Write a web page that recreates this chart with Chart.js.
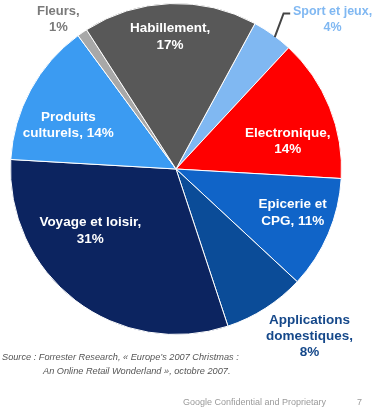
<!DOCTYPE html>
<html>
<head>
<meta charset="utf-8">
<script src="https://cdn.jsdelivr.net/npm/chart.js@4.4.0/dist/chart.umd.min.js"></script>
<style>
  html,body{margin:0;padding:0;background:#fff;width:382px;height:420px;overflow:hidden;}
  #wrap{position:absolute;left:0;top:0;width:382px;height:420px;}
  #c{position:absolute;left:0;top:0;}
  .src{position:absolute;font-family:"Liberation Sans",Arial,sans-serif;font-style:italic;font-size:9.2px;color:#555;white-space:nowrap;}
  .foot{position:absolute;font-family:"Liberation Sans",Arial,sans-serif;font-size:9px;color:#9a9a9a;white-space:nowrap;}
</style>
</head>
<body>
<div id="wrap">
<canvas id="c" width="382" height="420"></canvas>
<div class="src" style="left:2px;top:352px;">Source : Forrester Research, « Europe’s 2007 Christmas :</div>
<div class="src" style="left:43px;top:366px;">An Online Retail Wonderland », octobre 2007.</div>
<div class="foot" style="left:183px;top:397px;">Google Confidential and Proprietary</div>
<div class="foot" style="left:357px;top:397px;">7</div>
</div>
<script>
// Data
const categories = ["Sport et jeux", "Electronique", "Epicerie et CPG", "Applications domestiques", "Voyage et loisir", "Produits culturels", "Fleurs", "Habillement"];
const shares = [4, 14, 11, 8, 31, 14, 1, 17];
const labelLines = [
  ["Sport et jeux,", "4%"],
  ["Electronique,", "14%"],
  ["Epicerie et", "CPG, 11%"],
  ["Applications", "domestiques,", "8%"],
  ["Voyage et loisir,", "31%"],
  ["Produits", "culturels, 14%"],
  ["Fleurs,", "1%"],
  ["Habillement,", "17%"]
];

// Styles
const sliceColors = ["#80b8f2", "#ff0000", "#1064c8", "#0b4c98", "#0c2460", "#3b9bf2", "#a8a8a8", "#585858"];
const labelColors = ["#80b8f2", "#ffffff", "#ffffff", "#15488a", "#ffffff", "#ffffff", "#7a7a7a", "#ffffff"];
// label block centre, in units of pie radius relative to pie centre
const labelOffsets = [[0.946,-0.905],[0.675,-0.165],[0.705,0.262],[0.807,1.012],[-0.518,0.376],[-0.651,-0.262],[-0.711,-0.905],[-0.036,-0.797]];
const F = "'Liberation Sans', Arial, sans-serif";
const labelFonts = ["bold 12.5px "+F,"bold 13.5px "+F,"bold 13.5px "+F,"bold 13.5px "+F,"bold 13.5px "+F,"bold 13.5px "+F,"bold 13px "+F,"bold 13.5px "+F];
const lineHeights = [16,16,17,16,17,16,16,17];

const labelPlugin = {
  id: 'sliceLabels',
  afterDatasetsDraw(chart) {
    const ctx = chart.ctx;
    const meta = chart.getDatasetMeta(0);
    const arc0 = meta.data[0];
    const cx = arc0.x, cy = arc0.y, R = arc0.outerRadius;
    ctx.save();
    // leader line for Sport et jeux
    const a = meta.data[0];
    const mid = (a.startAngle + a.endAngle) / 2;
    ctx.strokeStyle = "#444";
    ctx.lineWidth = 2;
    ctx.beginPath();
    const p0x = cx + Math.cos(mid + 0.02) * R * 0.995, p0y = cy + Math.sin(mid + 0.02) * R * 0.995;
    ctx.moveTo(p0x, p0y);
    ctx.lineTo(cx + 0.65 * R, cy - 0.94 * R);
    ctx.lineTo(cx + 0.69 * R, cy - 0.94 * R);
    ctx.stroke();
    ctx.textAlign = "center";
    ctx.textBaseline = "middle";
    labelLines.forEach((lines, i) => {
      const lx = cx + labelOffsets[i][0] * R;
      const ly = cy + labelOffsets[i][1] * R;
      ctx.font = labelFonts[i];
      ctx.fillStyle = labelColors[i];
      const lh = lineHeights[i];
      const top = ly - (lines.length - 1) * lh / 2;
      lines.forEach((t, k) => ctx.fillText(t, lx, top + k * lh));
    });
    ctx.restore();
  }
};

new Chart(document.getElementById('c'), {
  type: 'pie',
  data: {
    labels: categories,
    datasets: [{
      data: shares,
      backgroundColor: sliceColors,
      borderColor: "#ffffff",
      borderWidth: 1
    }]
  },
  options: {
    responsive: false,
    animation: false,
    rotation: 28.5,
    layout: { padding: { left: 10, right: 40, top: 3, bottom: 85 } },
    plugins: { legend: { display: false }, tooltip: { enabled: false } }
  },
  plugins: [labelPlugin]
});
</script>
</body>
</html>
